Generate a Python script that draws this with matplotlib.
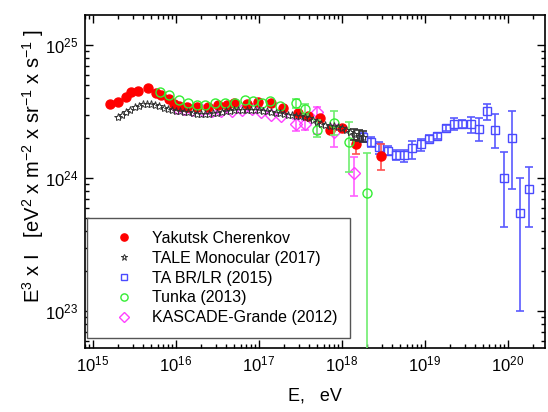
import numpy as np
import matplotlib.pyplot as plt

plt.rcParams['font.family'] = ['Liberation Sans', 'DejaVu Sans']
plt.rcParams['mathtext.fontset'] = 'custom'
plt.rcParams['mathtext.rm'] = 'Liberation Sans'
plt.rcParams['mathtext.it'] = 'Liberation Sans:italic'
plt.rcParams['mathtext.bf'] = 'Liberation Sans:bold'

# energies as log10(E/eV); E^3*I in units of 1e24 eV^2 m^-2 sr^-1 s^-1
# lo/hi = ends of the error bar (same as flux where no bar is visible)
yak_logE = [15.20, 15.30, 15.40, 15.46, 15.54, 15.66, 15.76, 15.82, 15.92, 15.97,
            16.04, 16.13, 16.25, 16.39, 16.51, 16.61, 16.70, 16.85, 16.99, 17.15,
            17.29, 17.47, 17.59, 17.74, 17.86, 18.00, 18.17, 18.47]
yak_flux = [3.58, 3.73, 4.04, 4.43, 4.53, 4.72, 4.33, 4.21, 3.91, 3.60,
            3.48, 3.44, 3.44, 3.44, 3.54, 3.54, 3.64, 3.60, 3.75, 3.68,
            3.36, 3.07, 2.92, 2.81, 2.30, 2.36, 1.79, 1.47]
yak_lo = yak_flux[:25] + [2.25, 1.53, 1.15]
yak_hi = yak_flux[:25] + [2.47, 1.93, 1.82]

tale_logE = [15.30, 15.35, 15.40, 15.45, 15.50, 15.55, 15.60, 15.65, 15.70, 15.75,
             15.80, 15.85, 15.90, 15.95, 16.00, 16.05, 16.10, 16.15, 16.20, 16.25,
             16.30, 16.35, 16.40, 16.45, 16.50, 16.55, 16.60, 16.65, 16.70, 16.75,
             16.80, 16.85, 16.90, 16.95, 17.00, 17.05, 17.10, 17.15, 17.20, 17.25,
             17.30, 17.35, 17.40, 17.45, 17.50, 17.55, 17.60, 17.65, 17.70, 17.75,
             17.80, 17.85, 17.90, 17.95, 18.00, 18.05, 18.10, 18.15, 18.20, 18.25]
tale_flux = [2.87, 3.00, 3.13, 3.24, 3.42, 3.51, 3.59, 3.60, 3.59, 3.54,
             3.46, 3.39, 3.32, 3.26, 3.22, 3.19, 3.15, 3.12, 3.08, 3.05,
             3.03, 3.03, 3.04, 3.07, 3.11, 3.14, 3.19, 3.22, 3.24, 3.26,
             3.27, 3.27, 3.27, 3.26, 3.24, 3.22, 3.19, 3.15, 3.11, 3.07,
             3.03, 3.00, 2.98, 2.95, 2.92, 2.87, 2.83, 2.73, 2.64, 2.57,
             2.52, 2.48, 2.45, 2.42, 2.36, 2.30, 2.22, 2.14, 2.09, 2.03]
tale_lo = tale_flux[:57] + [1.95, 1.90, 1.88]
tale_hi = tale_flux[:57] + [2.32, 2.30, 2.25]

ta_logE = [18.25, 18.35, 18.45, 18.55, 18.65, 18.75, 18.85, 18.95, 19.05, 19.15,
           19.25, 19.35, 19.45, 19.55, 19.65, 19.75, 19.85, 19.95, 20.05, 20.15, 20.25]
ta_flux = [2.02, 1.87, 1.70, 1.60, 1.50, 1.49, 1.67, 1.80, 1.97, 2.07,
           2.38, 2.55, 2.55, 2.53, 2.35, 3.19, 2.31, 1.01, 1.99, 0.552, 0.83]
ta_lo = [1.88, 1.70, 1.53, 1.49, 1.37, 1.33, 1.39, 1.60, 1.86, 1.97,
         2.27, 2.30, 2.36, 2.17, 1.91, 2.73, 1.67, 0.43, 0.836, 0.10, 0.43]
ta_hi = [2.17, 2.02, 1.87, 1.74, 1.64, 1.64, 1.91, 1.97, 2.10, 2.17,
         2.50, 2.81, 2.73, 2.86, 2.81, 3.58, 3.04, 1.58, 3.19, 0.995, 1.22]

tunka_logE = [15.81, 15.91, 16.03, 16.15, 16.25, 16.35, 16.47, 16.59, 16.71, 16.83,
              16.93, 17.04, 17.13, 17.25, 17.45, 17.55, 17.70, 17.90, 18.09, 18.30]
tunka_flux = [4.43, 4.19, 3.88, 3.66, 3.52, 3.52, 3.66, 3.66, 3.66, 3.88,
              3.77, 3.66, 3.77, 3.46, 3.64, 3.28, 2.30, 2.58, 1.87, 0.78]
tunka_lo = tunka_flux[:14] + [3.34, 2.98, 2.03, 2.10, 1.11, 0.001]
tunka_hi = tunka_flux[:14] + [3.91, 3.58, 2.73, 3.21, 2.62, 1.55]

kg_logE = [16.01, 16.10, 16.19, 16.31, 16.43, 16.54, 16.67, 16.79, 16.91, 17.03,
           17.15, 17.27, 17.45, 17.56, 17.70, 17.90, 18.14]
kg_flux = [3.34, 3.30, 3.24, 3.24, 3.21, 3.22, 3.21, 3.26, 3.30, 3.13,
           2.98, 2.92, 2.55, 2.55, 3.15, 2.23, 1.10]
kg_lo = kg_flux[:12] + [2.27, 2.30, 2.14, 1.70, 0.73]
kg_hi = kg_flux[:12] + [2.76, 2.73, 3.44, 2.50, 1.45]

labels = ['Yakutsk Cherenkov', 'TALE Monocular (2017)', 'TA BR/LR (2015)',
          'Tunka (2013)', 'KASCADE-Grande (2012)']

fig = plt.figure(figsize=(5.48, 4.12), dpi=100)
ax = fig.add_axes([85 / 548, 1 - 348 / 412, 460 / 548, 333 / 412])


def draw(logE, flux, lo, hi, label, marker, ms, color, ecolor, filled, z, mew=1.0):
    E = 10.0 ** np.array(logE)
    y = np.array(flux) * 1e24
    lo = np.array(lo) * 1e24
    hi = np.array(hi) * 1e24
    m = (hi - lo) > 0
    ax.errorbar(E[m], y[m], yerr=[y[m] - lo[m], hi[m] - y[m]], fmt='none',
                ecolor=ecolor, elinewidth=1.2, capsize=3, capthick=1.2, zorder=z)
    h, = ax.plot(E, y, linestyle='none', marker=marker, ms=ms,
                 mfc=color if filled else 'none', mec=color, mew=mew,
                 label=label, zorder=z + 0.5)
    return h


h_ta = draw(ta_logE, ta_flux, ta_lo, ta_hi, labels[2], 's', 6, '#4a4aff', '#5a5aff', False, 2)
h_kg = draw(kg_logE, kg_flux, kg_lo, kg_hi, labels[4], 'D', 6, '#ff40ff', '#ff60ff', False, 3)
h_yak = draw(yak_logE, yak_flux, yak_lo, yak_hi, labels[0], 'o', 6.5, '#ff0000', '#ff5050', True, 4)
h_tun = draw(tunka_logE, tunka_flux, tunka_lo, tunka_hi, labels[3], 'o', 6.5, '#33ee33', '#70ee70', False, 5)
h_tale = draw(tale_logE, tale_flux, tale_lo, tale_hi, labels[1], '*', 6, '#333333', '#333333', False, 6, mew=0.7)

ax.set_xscale('log')
ax.set_yscale('log')
ax.set_xlim(8e14, 2.8e20)
ax.set_ylim(5.3e22, 1.68e25)
ax.set_xticks([1e15, 1e16, 1e17, 1e18, 1e19, 1e20])
ax.set_yticks([1e23, 1e24, 1e25])
ax.tick_params(which='both', direction='in', top=True, right=True, width=1.0, labelsize=12)
ax.tick_params(which='major', length=6)
ax.tick_params(which='minor', length=3)
ax.tick_params(axis='x', pad=5)
ax.tick_params(axis='y', pad=5)
for s in ax.spines.values():
    s.set_linewidth(1.2)

ax.set_xlabel('E,   eV', fontsize=13, labelpad=9)
fig.text(33 / 548, 1 - 166 / 412,
         'E$^3$ x I   [eV$^2$ x m$^{-2}$ x sr$^{-1}$ x s$^{-1}$ ]',
         rotation=90, ha='center', va='center', fontsize=14.5)

leg = ax.legend(handles=[h_yak, h_tale, h_ta, h_tun, h_kg], loc='lower left',
                bbox_to_anchor=(0.004, 0.03), borderaxespad=0, fontsize=11.5,
                frameon=True, fancybox=False, edgecolor='#555555', framealpha=1,
                handlelength=3.0, handletextpad=0.25, labelspacing=0.3,
                borderpad=0.8, markerscale=0.8)
leg.get_frame().set_linewidth(1.0)

fig.savefig('out.png', dpi=100)
